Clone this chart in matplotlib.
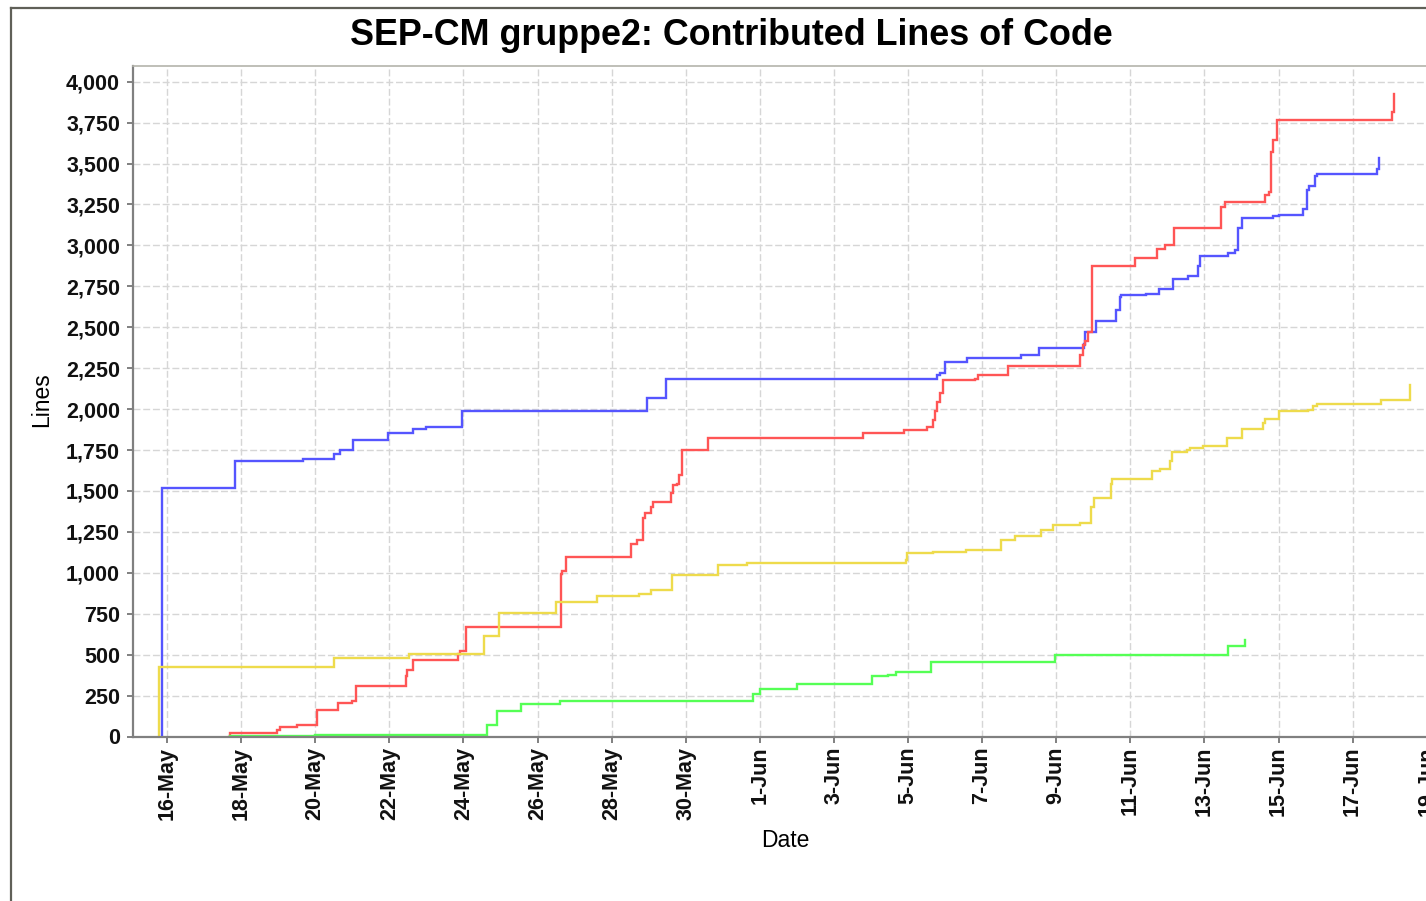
import numpy as np
import pandas as pd
import matplotlib
matplotlib.use("Agg")
import matplotlib.pyplot as plt
import matplotlib.dates as mdates
from matplotlib.ticker import FuncFormatter
from matplotlib.lines import Line2D

plt.rcParams['font.family'] = ['Liberation Sans', 'DejaVu Sans']

# start of the project, x values below are days after this date
start = pd.Timestamp('2009-05-16')

# cumulative lines per author (step series), days since 16-May
blue_days = [-0.148, -0.143, 1.835, 3.679, 4.516, 4.669, 5.028, 5.957, 6.648, 6.991,
             7.970, 12.964, 13.468, 20.791, 20.864, 20.999, 21.579, 23.050, 23.549,
             24.742, 24.788, 25.071, 25.614, 25.711, 25.757, 26.434, 26.764, 27.158,
             27.560, 27.814, 27.889, 28.642, 28.831, 28.907, 29.017, 29.846, 30.005,
             30.661, 30.756, 30.823, 30.990, 31.047, 32.664, 32.713]
blue_lines = [0, 1517, 1685, 1697, 1725, 1752, 1811, 1856, 1879, 1890,
              1988, 2068, 2185, 2211, 2221, 2290, 2310, 2330, 2375,
              2395, 2471, 2538, 2605, 2687, 2695, 2706, 2732, 2797,
              2814, 2875, 2936, 2951, 2973, 3104, 3165, 3181, 3187,
              3222, 3338, 3365, 3426, 3436, 3467, 3533]

red_days = [1.682, 1.687, 2.961, 3.050, 3.517, 4.040, 4.623, 4.985, 5.093, 6.443,
            6.486, 6.648, 7.846, 7.908, 8.062, 10.634, 10.669, 10.769, 12.537, 12.694,
            12.856, 12.901, 13.055, 13.126, 13.595, 13.649, 13.757, 13.827, 13.892,
            14.610, 18.772, 19.892, 20.521, 20.683, 20.729, 20.791, 20.864, 20.937,
            21.800, 21.876, 22.702, 24.629, 24.723, 24.788, 24.856, 24.958, 26.132,
            26.734, 26.950, 27.166, 28.454, 28.567, 29.646, 29.752, 29.789, 29.865,
            29.960, 33.058, 33.125]
red_lines = [0, 23, 41, 61, 72, 164, 204, 214, 306, 368,
             408, 470, 502, 521, 669, 995, 1013, 1095, 1175, 1200,
             1334, 1364, 1405, 1434, 1487, 1538, 1544, 1599, 1748,
             1824, 1856, 1874, 1888, 1931, 1986, 2041, 2098, 2175,
             2185, 2211, 2262, 2328, 2389, 2415, 2471, 2875, 2926,
             2977, 3001, 3104, 3232, 3267, 3308, 3328, 3573, 3645,
             3767, 3814, 3926]

yellow_days = [-0.216, -0.211, 4.516, 6.540, 8.556, 8.969, 10.491, 11.598, 12.748,
               13.063, 13.638, 14.880, 15.646, 19.938, 19.960, 20.688, 21.576, 22.499,
               22.880, 23.587, 23.903, 24.629, 24.928, 25.020, 25.471, 25.514, 26.594,
               26.802, 27.072, 27.117, 27.538, 27.611, 27.954, 28.618, 29.023, 29.590,
               29.636, 30.022, 30.788, 30.939, 31.031, 32.759, 33.549]
yellow_lines = [0, 424, 482, 507, 613, 752, 823, 856, 868,
                894, 984, 1045, 1058, 1078, 1119, 1127, 1139, 1201,
                1225, 1262, 1292, 1303, 1405, 1456, 1541, 1572, 1619,
                1634, 1686, 1737, 1752, 1762, 1772, 1823, 1878, 1915,
                1939, 1991, 1997, 2017, 2034, 2058, 2146]

green_days = [1.700, 3.987, 8.645, 8.915, 9.555, 10.607, 15.808, 16.005, 17.012,
              19.036, 19.452, 19.676, 20.626, 23.968, 28.629, 29.093]
green_lines = [4, 12, 72, 153, 200, 214, 261, 292, 319,
               368, 376, 396, 457, 496, 551, 592]

series = [
    (blue_days, blue_lines, '#5555ff'),
    (red_days, red_lines, '#ff5555'),
    (yellow_days, yellow_lines, '#eedb4c'),
    (green_days, green_lines, '#55ff55'),
]

tick_dates = pd.date_range('2009-05-16', '2009-06-19', freq='2D')


def to_dates(days):
    return start + pd.to_timedelta(np.array(days), unit='D')


W, H = 1426, 901
fig = plt.figure(figsize=(W / 100, H / 100), dpi=100)
fig.patch.set_facecolor('white')

# plot area in pixels: left 133, right 1437 (past the edge), top 66, bottom 736.5
L, R, T, B = 133, 1437, 66, 736.5
ax = fig.add_axes([L / W, 1 - B / H, (R - L) / W, (B - T) / H])

for days, lines, col in series:
    ax.plot(to_dates(days), lines, drawstyle='steps-post', color=col,
            linewidth=1.7, solid_joinstyle='miter')

x0 = start + pd.Timedelta(days=(L - 167) / 37.05)
x1 = start + pd.Timedelta(days=(R - 167) / 37.05)
ax.set_xlim(x0, x1)
ax.set_ylim(0, 4096)

ax.set_yticks(np.arange(0, 4001, 250))
ax.yaxis.set_major_formatter(FuncFormatter(lambda v, p: f'{v:,.0f}'))
ax.set_xticks(tick_dates)
ax.xaxis.set_major_formatter(mdates.DateFormatter('%-d-%b'))

ax.grid(True, color='#d6d6d6', linestyle=(0, (5, 2)), linewidth=1.0)
ax.set_axisbelow(True)

for s in ['left', 'bottom']:
    ax.spines[s].set_color('#808080')
    ax.spines[s].set_linewidth(1.6)
ax.spines['top'].set_color('#b4b4ac')
ax.spines['top'].set_linewidth(1.2)
ax.spines['right'].set_visible(False)

ax.tick_params(direction='out', length=4.3, width=1.4, color='#808080',
               labelsize=15.5, labelcolor='#111111')
ax.tick_params(axis='y', pad=5)
ax.tick_params(axis='x', pad=3)
for lab in ax.get_xticklabels():
    lab.set_rotation(90)
    lab.set_fontweight('bold')
for lab in ax.get_yticklabels():
    lab.set_fontweight('bold')

ax.set_xlabel('Date', fontsize=16.5)
ax.xaxis.set_label_coords(0.5, -0.1554)
ax.xaxis.label.set_verticalalignment('center')
ax.set_ylabel('Lines', fontsize=16.5)
ax.yaxis.set_label_coords((41.5 - L) / (R - L), (B - 399.5) / (B - T))
ax.yaxis.label.set_verticalalignment('center')

fig.text(731.5 / W, 1 - 45 / H, 'SEP-CM gruppe2: Contributed Lines of Code',
         ha='center', va='baseline', fontsize=25.8, fontweight='bold')

# outer chart frame (only its top and left sides are inside the picture)
fig.add_artist(Line2D([11 / W, 11 / W], [0, 1 - 8 / H], color='#606058', linewidth=1.6))
fig.add_artist(Line2D([11 / W, 1], [1 - 8 / H, 1 - 8 / H], color='#606058', linewidth=1.6))

fig.savefig('out.png', dpi=100)
